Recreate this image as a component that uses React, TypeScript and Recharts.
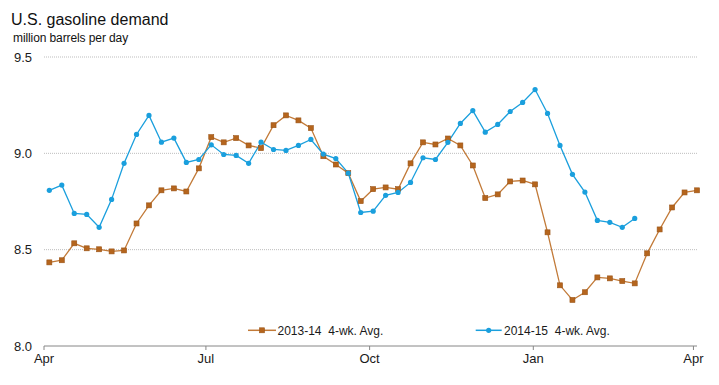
import React from "react";
import { LineChart, Line, XAxis, YAxis, CartesianGrid, Legend } from "recharts";

// x categories: week offsets (days after Apr 1)
const weekDays: number[] = Array.from({ length: 53 }, (_, i) => 3 + 7 * i);

const series2013: number[] = [
  8.434, 8.445, 8.533, 8.507, 8.502, 8.491, 8.496, 8.636, 8.73, 8.808,
  8.818, 8.802, 8.922, 9.084, 9.057, 9.079, 9.041, 9.027, 9.146, 9.197,
  9.171, 9.131, 8.985, 8.942, 8.897, 8.752, 8.814, 8.823, 8.814, 8.948,
  9.057, 9.046, 9.077, 9.041, 8.937, 8.768, 8.787, 8.854, 8.859, 8.839,
  8.59, 8.315, 8.239, 8.279, 8.356, 8.351, 8.337, 8.325, 8.481, 8.605,
  8.719, 8.797, 8.808,
];

const series2014: number[] = [
  8.808, 8.835, 8.688, 8.683, 8.616, 8.761, 8.948, 9.098, 9.197, 9.058,
  9.079, 8.953, 8.968, 9.044, 8.994, 8.989, 8.948, 9.058, 9.02, 9.015,
  9.041, 9.072, 8.996, 8.973, 8.897, 8.693, 8.7, 8.782, 8.797, 8.849,
  8.977, 8.968, 9.057, 9.155, 9.222, 9.11, 9.15, 9.217, 9.264, 9.331,
  9.207, 9.041, 8.891, 8.799, 8.652, 8.642, 8.616, 8.662,
];

const xTicks: number[] = [0, 91, 183, 275, 365];
const xTickLabels: string[] = ["Apr", "Jul", "Oct", "Jan", "Apr"];
const yTicks: number[] = [8.0, 8.5, 9.0, 9.5];

const name2013 = "2013-14  4-wk. Avg.";
const name2014 = "2014-15  4-wk. Avg.";

const ORANGE_LINE = "#C27A38";
const ORANGE_FILL = "#B5651D";
const ORANGE_EDGE = "#9A5417";
const BLUE = "#1A9FDD";

const data = weekDays.map((d, i) => ({
  day: d,
  a: series2013[i],
  b: i < series2014.length ? series2014[i] : undefined,
}));

const FONT = "'Liberation Sans', Arial, sans-serif";

const SquareDot = (props: any) => {
  const { cx, cy } = props;
  if (cx == null || cy == null) return null;
  return (
    <rect
      x={cx - 2.5}
      y={cy - 2.5}
      width={5}
      height={5}
      fill={ORANGE_FILL}
      stroke={ORANGE_EDGE}
      strokeWidth={0.6}
    />
  );
};

const LegendContent = () => (
  <svg width={719} height={30} style={{ display: "block", overflow: "visible" }}>
    <g>
      <line x1={248} y1={15.3} x2={276} y2={15.3} stroke={ORANGE_LINE} strokeWidth={1.5} />
      <rect x={259.5} y={12.8} width={5} height={5} fill={ORANGE_FILL} stroke={ORANGE_EDGE} strokeWidth={0.6} />
      <text x={277.5} y={19.5} fontFamily={FONT} fontSize={12} fill="#1a1a1a" style={{ whiteSpace: "pre" }}>
        {name2013}
      </text>
    </g>
    <g>
      <line x1={475.7} y1={15.3} x2={501.7} y2={15.3} stroke={BLUE} strokeWidth={1.5} />
      <circle cx={488.7} cy={15.3} r={2.6} fill={BLUE} />
      <text x={504} y={19.5} fontFamily={FONT} fontSize={12} fill="#1a1a1a" style={{ whiteSpace: "pre" }}>
        {name2014}
      </text>
    </g>
  </svg>
);

export default function App() {
  return (
    <div
      style={{
        position: "absolute",
        left: 0,
        top: 0,
        width: 719,
        height: 385,
        background: "#fff",
        fontFamily: FONT,
      }}
    >
      <div
        style={{
          position: "absolute",
          left: 11,
          top: 11.5,
          fontSize: 16,
          lineHeight: "16px",
          color: "#111",
          whiteSpace: "nowrap",
        }}
      >
        U.S. gasoline demand
      </div>
      <div
        style={{
          position: "absolute",
          left: 13,
          top: 31.8,
          fontSize: 12,
          lineHeight: "12px",
          color: "#111",
          letterSpacing: -0.1,
          whiteSpace: "nowrap",
        }}
      >
        million barrels per day
      </div>
      <LineChart
        width={719}
        height={385}
        data={data}
        margin={{ top: 57, right: 22, bottom: 9, left: 0 }}
        style={{ position: "absolute", left: 0, top: 0 }}
      >
        <CartesianGrid
          vertical={false}
          stroke="#BDBDBD"
          strokeDasharray="1 1"
          horizontalValues={[8.5, 9.0, 9.5]}
        />
        <XAxis
          dataKey="day"
          type="number"
          domain={[0, 367]}
          ticks={xTicks}
          tickFormatter={(v: number) => xTickLabels[xTicks.indexOf(v)] ?? ""}
          axisLine={{ stroke: "#868686", strokeWidth: 1 }}
          tickLine={{ stroke: "#868686" }}
          tickSize={4}
          tickMargin={4}
          height={30}
          interval={0}
          tick={{ fontSize: 13, fill: "#1a1a1a", fontFamily: FONT }}
        />
        <YAxis
          type="number"
          domain={[8, 9.5]}
          ticks={yTicks}
          tickFormatter={(v: number) => v.toFixed(1)}
          axisLine={false}
          tickLine={false}
          tickMargin={6}
          width={44}
          interval={0}
          tick={{ fontSize: 13, fill: "#1a1a1a", fontFamily: FONT }}
        />
        <Legend
          content={<LegendContent />}
          wrapperStyle={{ position: "absolute", left: 0, top: 315, width: 719, height: 0, overflow: "visible" }}
        />
        <Line
          type="linear"
          dataKey="a"
          name={name2013}
          stroke={ORANGE_LINE}
          strokeWidth={1.3}
          dot={<SquareDot />}
          activeDot={false}
          isAnimationActive={false}
        />
        <Line
          type="linear"
          dataKey="b"
          name={name2014}
          stroke={BLUE}
          strokeWidth={1.3}
          dot={{ r: 2.6, fill: BLUE, stroke: "none" }}
          activeDot={false}
          connectNulls={false}
          isAnimationActive={false}
        />
      </LineChart>
    </div>
  );
}
